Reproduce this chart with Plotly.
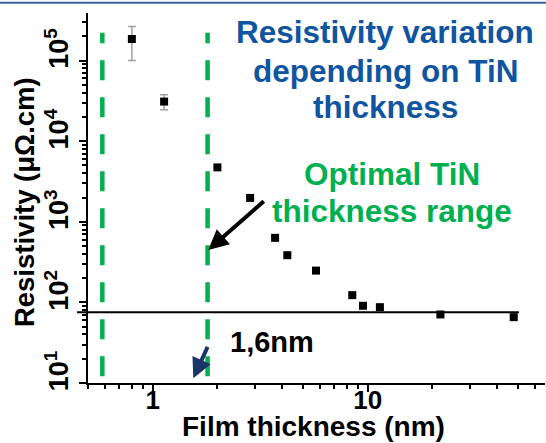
import plotly.graph_objects as go

# ---- data ----
thickness_nm = [0.80, 1.13, 2.0, 2.84, 3.71, 4.23, 5.75, 8.48, 9.51, 11.4, 21.8, 47.8]
resistivity = [1.85e5, 3.1e4, 4730, 1977, 632, 385, 248, 123, 90.8, 87.2, 70.8, 65.6]
err_plus = [8.0e4, 6.7e3, None, None, None, None, None, None, None, None, None, None]
err_minus = [8.5e4, 6.4e3, None, None, None, None, None, None, None, None, None, None]

optimal_range_nm = [0.583, 1.80]
range_line_y = [12.1, 2.21e5]
reference_level = 75.6

y_tickvals = [10, 100, 1000, 10000, 100000]
y_ticktext = ["10<sup>1</sup>", "10<sup>2</sup>", "10<sup>3</sup>", "10<sup>4</sup>", "10<sup>5</sup>"]
x_tickvals = [1, 10]
x_ticktext = ["1", "10"]

FONT = "Liberation Sans, Arial, sans-serif"
GREEN = "#00b050"
BLUE = "#0f559f"
NAVY = "#1b3566"

fig = go.Figure()

# green dashed optimal-range lines (drawn bottom -> top)
for xv in optimal_range_nm:
    fig.add_trace(go.Scatter(
        x=[xv, xv], y=range_line_y, mode="lines",
        line=dict(color=GREEN, width=4.5, dash="20px,17px"),
        hoverinfo="skip", showlegend=False))

# data points
fig.add_trace(go.Scatter(
    x=thickness_nm, y=resistivity, mode="markers",
    marker=dict(symbol="square", size=8, color="black"),
    error_y=dict(type="data", symmetric=False, array=err_plus, arrayminus=err_minus,
                 color="#a0a0a0", thickness=1.5, width=4),
    showlegend=False))

# reference horizontal line
fig.add_shape(type="line", xref="paper", yref="y", x0=-0.024, x1=0.943,
              y0=reference_level, y1=reference_level,
              line=dict(color="black", width=2))

# top border line
fig.add_shape(type="line", xref="paper", yref="paper", x0=-0.2, x1=1.01,
              y0=1.028, y1=1.028, line=dict(color="#3a62a0", width=2), layer="above")

ann = []
def txt(text, x, y, size, color, **kw):
    ann.append(dict(text=text, x=x, y=y, xref="paper", yref="paper", showarrow=False,
                    xanchor="center", yanchor="middle",
                    font=dict(family=FONT, size=size, color=color, weight="bold"), **kw))

txt("Resistivity variation", 0.650, 0.950, 31.5, BLUE)
txt("depending on TiN", 0.650, 0.843, 31.5, BLUE)
txt("thickness", 0.650, 0.745, 31.5, BLUE)
txt("Optimal TiN", 0.666, 0.565, 31.5, GREEN)
txt("thickness range", 0.666, 0.466, 31.5, GREEN)
txt("1,6nm", 0.402, 0.1095, 29, "black")
txt("Film thickness (nm)", 0.493, -0.118, 28, "black")
txt("Resistivity (μΩ.cm)", -0.140, 0.489, 27.5, "black", textangle=-90)

# arrows
ann.append(dict(text="", x=0.2632, y=0.3595, xref="paper", yref="paper",
                showarrow=True, ax=57, ay=-50, arrowhead=2, arrowsize=1,
                arrowwidth=4, arrowcolor="black", standoff=0))
ann.append(dict(text="", x=0.2304, y=0.0127, xref="paper", yref="paper",
                showarrow=True, ax=15, ay=-33, arrowhead=2, arrowsize=1,
                arrowwidth=4, arrowcolor=NAVY, standoff=0))

fig.update_layout(
    width=546, height=443,
    margin=dict(l=88, r=1, t=13, b=60, autoexpand=False),
    paper_bgcolor="white", plot_bgcolor="white",
    annotations=ann,
    font=dict(family=FONT),
)

fig.update_xaxes(
    type="log", range=[-0.301, 1.825],
    showgrid=False, zeroline=False,
    showline=True, linecolor="black", linewidth=2,
    ticks="outside", ticklen=7, tickwidth=1.5, tickcolor="black",
    tickvals=x_tickvals, ticktext=x_ticktext, ticklabelstandoff=-14,
    tickfont=dict(family=FONT, size=26, color="black", weight="bold"),
    minor=dict(ticks="outside", ticklen=4, tickwidth=1.5, tickcolor="black", dtick="D1", showgrid=False),
)
fig.update_yaxes(
    type="log", range=[1.0, 5.59],
    showgrid=False, zeroline=False,
    showline=True, linecolor="black", linewidth=2,
    ticks="outside", ticklen=7, tickwidth=1.5, tickcolor="black",
    tickvals=y_tickvals, ticktext=y_ticktext, tickangle=-90, ticklabelshift=-8,
    tickfont=dict(family=FONT, size=27, color="black", weight="bold"),
    minor=dict(ticks="outside", ticklen=4, tickwidth=1.5, tickcolor="black", dtick="D1", showgrid=False),
)

fig.write_html("out.html", config={"displayModeBar": False},
               post_script="document.body.style.margin='0';document.body.style.overflow='hidden';")
